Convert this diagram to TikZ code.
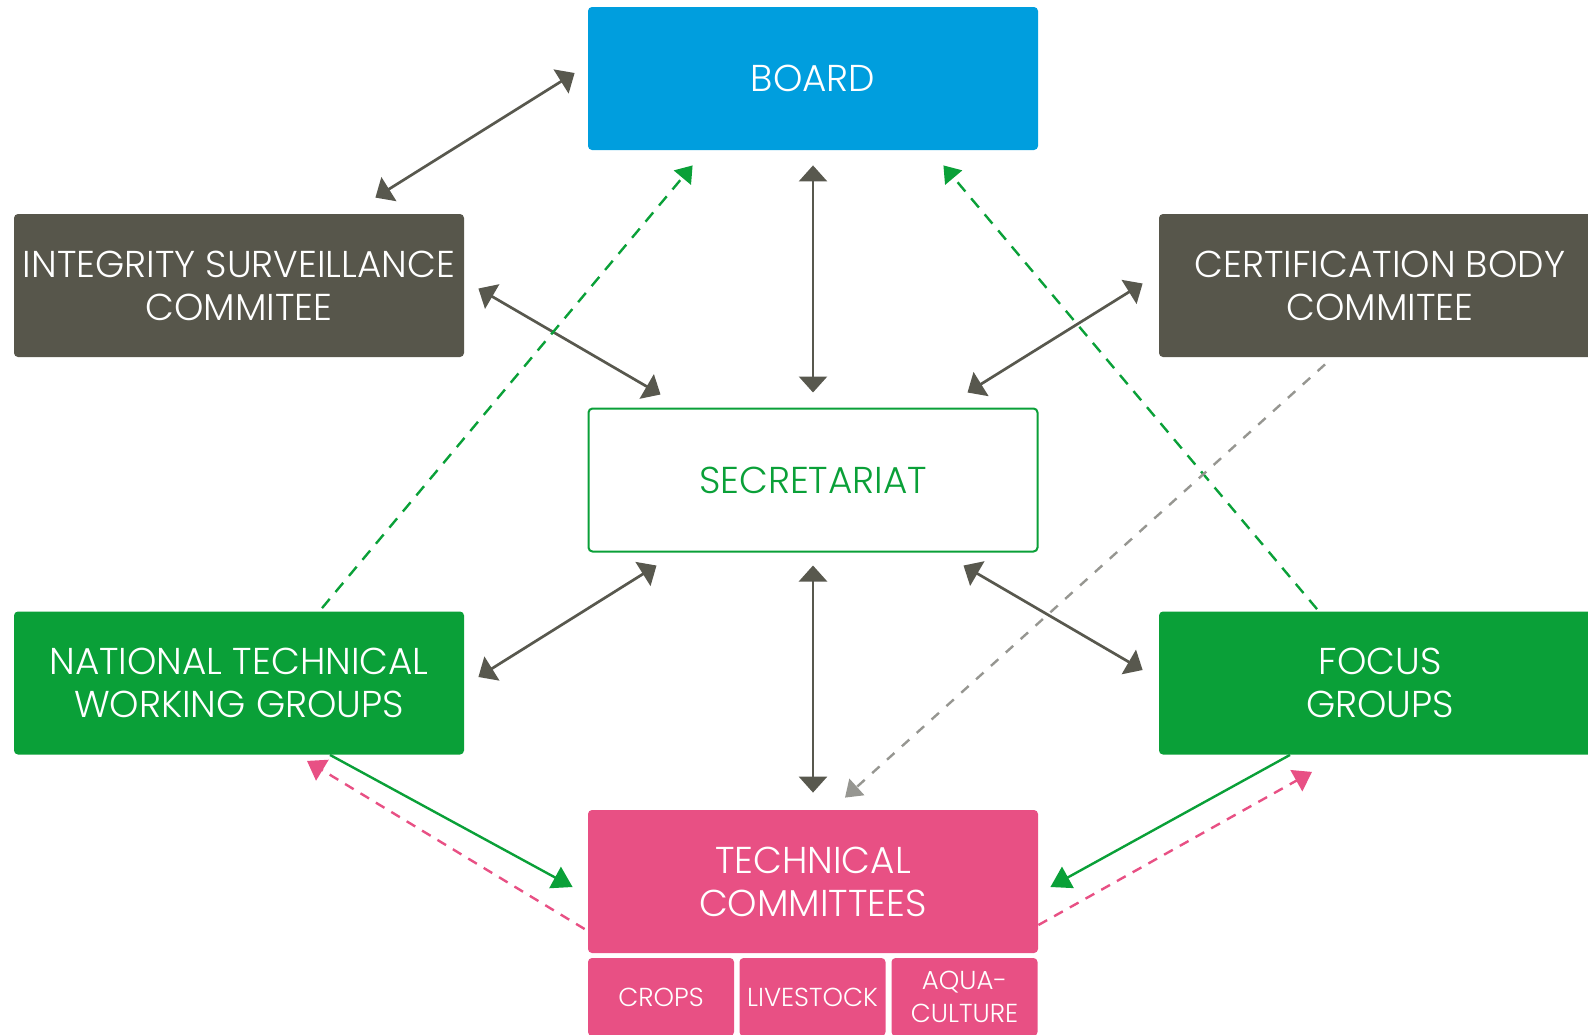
\documentclass[tikz,border=0pt]{standalone}
\usepackage{fontspec}
\IfFontExistsTF{Poppins Light}{\setmainfont{Poppins Light}}{\setmainfont{Poppins}}
\usetikzlibrary{arrows.meta,calc}
\definecolor{bblue}{RGB}{0,158,222}
\definecolor{dgray}{RGB}{87,86,75}
\definecolor{ggreen}{RGB}{10,160,56}
\definecolor{ppink}{RGB}{232,80,132}
\definecolor{agray}{RGB}{88,88,78}
\definecolor{lgray}{RGB}{150,150,145}
\tikzset{
  boxbase/.style={rectangle, rounded corners=2pt, minimum width=225pt, minimum height=71.5pt, inner sep=0pt, align=center, text=white, font=\fontsize{18.7}{21.5}\selectfont},
  bluebox/.style={boxbase, fill=bblue},
  graybox/.style={boxbase, fill=dgray},
  greenbox/.style={boxbase, fill=ggreen},
  pinkbox/.style={boxbase, fill=ppink},
  secbox/.style={boxbase, draw=ggreen, line width=1pt, fill=white, text=ggreen, minimum width=224.5pt},
  subbox/.style={rectangle, rounded corners=2pt, minimum width=73pt, minimum height=39pt, inner sep=0pt, align=center, text=white, fill=ppink, font=\fontsize{13}{16.5}\selectfont},
  garr/.style={draw=agray, line width=1.35pt, {Triangle[length=8pt,width=14pt]}-{Triangle[length=8pt,width=14pt]}},
  gdash/.style={draw=ggreen, line width=1.2pt, dash pattern=on 6pt off 4.5pt, -{Triangle[length=8pt,width=11pt]}},
  ldash/.style={draw=lgray, line width=1.2pt, dash pattern=on 5pt off 5pt, -{Triangle[length=8pt,width=11pt]}},
  gsolid/.style={draw=ggreen, line width=1.2pt, -{Triangle[length=10pt,width=12pt]}},
  pdash/.style={draw=ppink, line width=1.2pt, dash pattern=on 5pt off 4pt, -{Triangle[length=9pt,width=12pt]}}
}
\begin{document}
\begin{tikzpicture}[x=0.5pt,y=-0.5pt]
\useasboundingbox (0,0) rectangle (1588,1034);
\clip (0,0) rectangle (1588,1034);
\node[bluebox] (board) at (813,78.5) {BOARD};
\node[graybox] (isc) at (239,285.5) {INTEGRITY SURVEILLANCE\\COMMITEE};
\node[graybox, minimum width=221pt] (cbc) at (1380,285.5) {CERTIFICATION BODY\\COMMITEE};
\node[secbox] (sec) at (813,480) {SECRETARIAT};
\node[greenbox] (ntwg) at (239,683) {NATIONAL TECHNICAL\\WORKING GROUPS};
\node[greenbox, minimum width=221pt] (focus) at (1380,683) {FOCUS\\GROUPS};
\node[pinkbox] (tc) at (813,881.5) {TECHNICAL\\COMMITTEES};
\node[subbox] (crops) at (661,997) {CROPS};
\node[subbox] (live) at (812.5,997) {LIVESTOCK};
\node[subbox] (aqua) at (964.5,997) {AQUA-\\CULTURE};
% gray double arrows
\draw[garr] ($(board.west)+(-13,-5.5)$) -- ($(isc.north east)+(-89,-16)$);
\draw[garr] ($(isc.east)+(14,3)$) -- ($(sec.north west)+(73,-13)$);
\draw[garr] ($(board.south)+(0,15)$) -- ($(sec.north)+(0,-15)$);
\draw[garr] ($(cbc.west)+(-16,-2)$) -- ($(sec.north east)+(-71,-15)$);
\draw[garr] ($(ntwg.east)+(14,-6)$) -- ($(sec.south west)+(69,13)$);
\draw[garr] ($(sec.south)+(0,13)$) -- ($(tc.north)+(0,-17)$);
\draw[garr] ($(focus.west)+(-16,-13)$) -- ($(sec.south east)+(-75,13)$);
% dashed to board
\draw[gdash] ($(ntwg.north)+(83,-3)$) -- ($(board.south west)+(105,15)$);
\draw[gdash] ($(focus.north)+(-63,-2)$) -- ($(board.south east)+(-95,15)$);
% gray dashed to TC
\draw[ldash] ($(cbc.south)+(-55,7)$) -- ($(tc.north)+(32,-12)$);
% green solid and pink dashed
\draw[gsolid] ($(ntwg.south)+(91,0)$) -- ($(tc.west)+(-15,5.5)$);
\draw[pdash] ($(tc.west)+(-3,47.5)$) -- ($(ntwg.south)+(68,6)$);
\draw[gsolid] ($(focus.south)+(-90,0)$) -- ($(tc.east)+(12,5.5)$);
\draw[pdash] ($(tc.east)+(0,43.5)$) -- ($(focus.south)+(-68,17)$);
\end{tikzpicture}
\end{document}
